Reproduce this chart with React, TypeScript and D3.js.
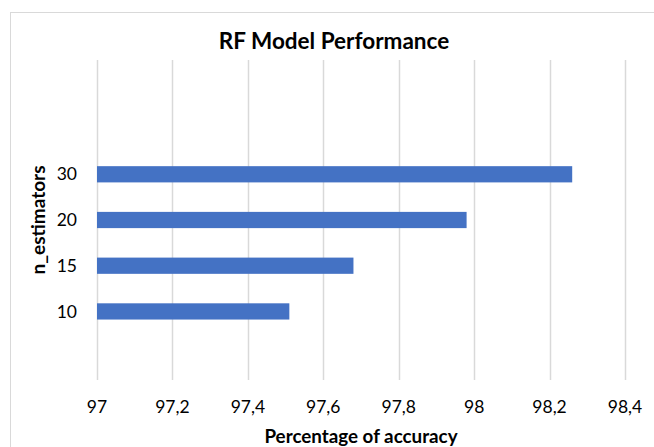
import React from "react";
import * as d3 from "d3";

// n_estimators categories (bottom to top) and their accuracy values
const categories = ["10", "15", "20", "30"];
const accuracy = [97.51, 97.68, 97.98, 98.26];
// Category axis slots, bottom to top; empty slots stay blank
const slots = ["", "10", "15", "20", "30", " ", "  "];
const xTicks = [97, 97.2, 97.4, 97.6, 97.8, 98, 98.2, 98.4];

const chartTitle = "RF Model Performance";
const xTitle = "Percentage of accuracy";
const yTitle = "n_estimators";

const W = 654;
const H = 447;
const plot = { left: 97, right: 625, top: 60, bottom: 380 };
const FONT = "Lato, 'Open Sans', sans-serif";

export default function App() {
  const x = d3.scaleLinear().domain([97, 98.4]).range([plot.left, plot.right]);
  const y = d3
    .scaleBand<string>()
    .domain([...slots].reverse())
    .range([plot.top, plot.bottom])
    .paddingInner(0.645)
    .paddingOuter(0.3225);

  const fmt = (v: number) => d3.format("~g")(+v.toFixed(1)).replace(".", ",");

  return (
    <svg
      width={W}
      height={H}
      style={{ position: "absolute", left: 0, top: 0, background: "#fff" }}
    >
      <rect x={10.5} y={12.5} width={W + 4} height={H + 4} fill="#fff" stroke="#d9d9d9" strokeWidth={1} />
      <text
        x={334}
        y={49}
        textAnchor="middle"
        fontFamily={FONT}
        fontWeight={700}
        fontSize={22.5}
        fill="#000"
      >
        {chartTitle}
      </text>
      {xTicks.map((t) => (
        <g key={t}>
          <line
            x1={Math.round(x(t)) + 0.5}
            x2={Math.round(x(t)) + 0.5}
            y1={plot.top}
            y2={plot.bottom}
            stroke="#d9d9d9"
            strokeWidth={1.5}
          />
          <text
            x={x(t)}
            y={413}
            textAnchor="middle"
            fontFamily={FONT}
            fontSize={17.5}
            fill="#000"
          >
            {fmt(t)}
          </text>
        </g>
      ))}
      {categories.map((c, i) => {
        const by = y(c)!;
        const bh = y.bandwidth();
        return (
          <g key={c}>
            <rect
              x={x(97)}
              y={by}
              width={x(accuracy[i]) - x(97)}
              height={bh}
              fill="#4472C4"
            />
            <text
              x={77}
              y={by + bh / 2}
              dy="0.35em"
              textAnchor="end"
              fontFamily={FONT}
              fontSize={17.5}
              fill="#000"
            >
              {c}
            </text>
          </g>
        );
      })}
      <text
        x={361}
        y={443}
        textAnchor="middle"
        fontFamily={FONT}
        fontWeight={700}
        fontSize={18.8}
        fill="#000"
      >
        {xTitle}
      </text>
      <text
        transform={`translate(45,${(plot.top + plot.bottom) / 2}) rotate(-90)`}
        textAnchor="middle"
        fontFamily={FONT}
        fontWeight={700}
        fontSize={19}
        fill="#000"
      >
        {yTitle}
      </text>
    </svg>
  );
}
